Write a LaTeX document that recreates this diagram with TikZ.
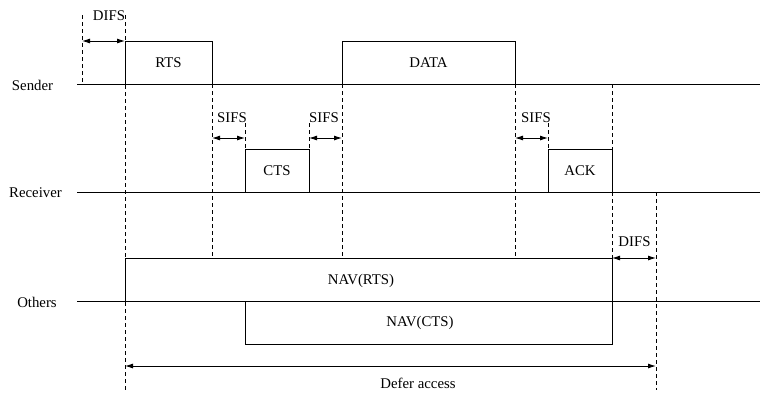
\documentclass[tikz,border=0pt]{standalone}
\usepackage{fontspec}
\setmainfont{Liberation Serif}
\usetikzlibrary{arrows.meta}
\begin{document}
\begin{tikzpicture}[x=1pt,y=-1pt,
  lbl/.style={font=\fontsize{14.8}{17}\selectfont, inner sep=0pt},
  box/.style={draw, line width=0.9pt, inner sep=0pt, font=\fontsize{14.8}{17}\selectfont},
  tline/.style={line width=0.9pt},
  guide/.style={line width=0.9pt, dash pattern=on 4pt off 3pt},
  span/.style={{Latex[length=8pt,width=5pt]}-{Latex[length=8pt,width=5pt]}, line width=0.9pt}]
\useasboundingbox (0,0) rectangle (760,392);

% time lines
\coordinate (sA) at (77,84);  \coordinate (sB) at (760,84);
\coordinate (rA) at (77,192); \coordinate (rB) at (760,192);
\coordinate (oA) at (77,301); \coordinate (oB) at (760,301);
\draw[tline] (sA) -- (sB);
\draw[tline] (rA) -- (rB);
\draw[tline] (oA) -- (oB);

\node[lbl] (sender) at (32.5,85) {Sender};
\node[lbl] (receiver) at (35.5,193) {Receiver};
\node[lbl] (others) at (37,302) {Others};

% frames
\node[box, minimum width=87pt, minimum height=43pt] (rts) at (168.5,62.5) {RTS};
\node[box, minimum width=173pt, minimum height=43pt] (data) at (428.5,62.5) {DATA};
\node[box, minimum width=64pt, minimum height=43pt] (cts) at (277,170.5) {CTS};
\node[box, minimum width=64pt, minimum height=43pt] (ack) at (580,170.5) {ACK};
\node[box, minimum width=487pt, minimum height=43pt] (navr) at (368.5,279.5) {};
\node[box, minimum width=367pt, minimum height=43pt] (navc) at (428.5,322.5) {};
\node[lbl] (navrtxt) at (361,281) {NAV(RTS)};
\node[lbl] (navctxt) at (420,323) {NAV(CTS)};

% guide coordinates
\coordinate (g0t) at (82,15);   \coordinate (g0b) at (82,84);
\coordinate (g1t) at (125,15);  \coordinate (g1b) at (125,390);
\coordinate (g2t) at (212,84);  \coordinate (g2b) at (212,258);
\coordinate (g3t) at (245,123); \coordinate (g3b) at (245,149);
\coordinate (g4t) at (309,123); \coordinate (g4b) at (309,149);
\coordinate (g5t) at (342,84);  \coordinate (g5b) at (342,258);
\coordinate (g6t) at (515,84);  \coordinate (g6b) at (515,258);
\coordinate (g7t) at (548,123); \coordinate (g7b) at (548,149);
\coordinate (g8t) at (612,84);  \coordinate (g8b) at (612,149);
\coordinate (g9t) at (612,192); \coordinate (g9b) at (612,258);
\coordinate (gAt) at (656,192); \coordinate (gAb) at (656,390);

\foreach \g in {g0,g1,g2,g3,g4,g5,g6,g7,g8,g9,gA}
  \draw[guide] (\g t) -- (\g b);

% interval arrows
\coordinate (d1a) at (82,41);   \coordinate (d1b) at (125,41);
\coordinate (s1a) at (212,138); \coordinate (s1b) at (245,138);
\coordinate (s2a) at (309,138); \coordinate (s2b) at (342,138);
\coordinate (s3a) at (515,138); \coordinate (s3b) at (548,138);
\coordinate (d2a) at (612,258); \coordinate (d2b) at (656,258);
\coordinate (dfa) at (125,366); \coordinate (dfb) at (656,366);
\draw[span] (d1a) -- (d1b);
\draw[span] (s1a) -- (s1b);
\draw[span] (s2a) -- (s2b);
\draw[span] (s3a) -- (s3b);
\draw[span] (d2a) -- (d2b);
\draw[span] (dfa) -- (dfb);

\node[lbl] (difs1) at (109,16) {DIFS};
\node[lbl] (sifs1) at (232,118) {SIFS};
\node[lbl] (sifs2) at (324,118) {SIFS};
\node[lbl] (sifs3) at (536,118) {SIFS};
\node[lbl] (difs2) at (634.5,242) {DIFS};
\node[lbl] (defer) at (418,383) {Defer access};
\end{tikzpicture}
\end{document}
